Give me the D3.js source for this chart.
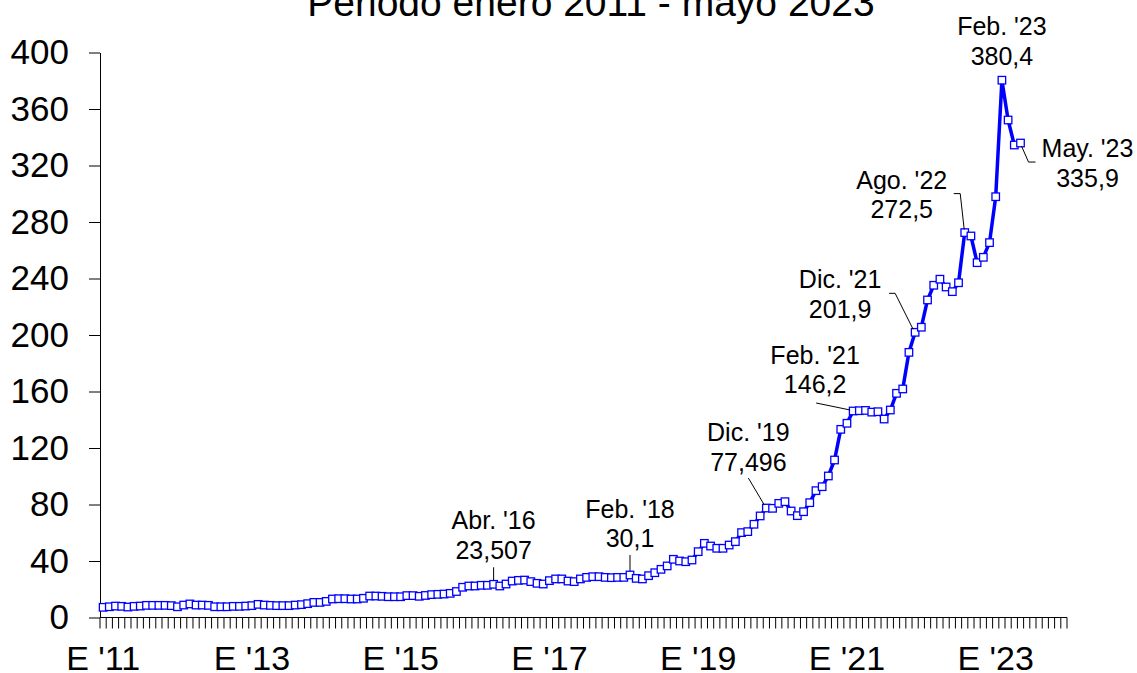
<!DOCTYPE html>
<html lang="es">
<head>
<meta charset="UTF-8">
<title>Periodo enero 2011 - mayo 2023</title>
<script src="https://cdn.jsdelivr.net/npm/d3@7"></script>
<style>
  body { margin: 0; background: #fff; }
  svg { display: block; font-family: "Liberation Sans", Arial, sans-serif; }
</style>
</head>
<body>
<svg class="root"></svg>
<script>
// ---- data ----
const title = "Periodo enero 2011 - mayo 2023";
const axisMonths = 156; // ene 2011 .. dic 2023 on the category axis

// monthly values, ene 2011 .. may 2023
const values = [
  7.2, 7.6, 8.1, 7.9, 7.4, 7.9, 8.1, 8.6, 8.6, 8.6, 8.6, 8.4,          // 2011
  7.6, 8.8, 9.6, 8.8, 8.8, 8.6, 7.6, 7.6, 7.6, 7.9, 7.9, 8.1,          // 2012
  8.4, 9.3, 8.8, 8.6, 8.4, 8.4, 8.4, 8.8, 9.1, 9.8, 10.7, 10.7,        // 2013
  11.4, 13.1, 13.3, 13.3, 13.1, 13.1, 13.6, 15.2, 15.2, 15.0, 14.7, 14.7, // 2014
  14.7, 15.5, 15.5, 15.0, 15.6, 16.2, 16.4, 16.6, 17.1, 18.4, 21.4, 22.3, // 2015
  22.3, 22.8, 22.8, 23.507, 22.3, 23.7, 25.8, 26.3, 26.5, 25.4, 24.2, 23.7, // 2016
  26.1, 27.3, 27.3, 25.8, 25.4, 27.3, 28.4, 28.9, 28.9, 28.4, 28.2, 28.4, // 2017
  28.4, 30.1, 27.7, 27.3, 29.6, 31.7, 34.1, 36.5, 41.2, 40.0, 39.5, 40.7, // 2018
  46.6, 52.5, 50.6, 49.0, 49.0, 51.3, 53.7, 60.1, 60.8, 66.0, 71.9, 77.496, // 2019
  77.3, 80.8, 82.0, 75.4, 72.1, 74.9, 81.3, 89.8, 92.6, 100.2, 111.5, 133.2, // 2020
  137.5, 146.2, 146.4, 146.6, 145.4, 145.7, 140.5, 146.9, 158.7, 161.8, 187.7, 201.9, // 2021
  205.5, 224.8, 235.2, 239.5, 234.0, 230.7, 237.0, 272.5, 270.1, 251.2, 255.0, 265.4, // 2022
  297.9, 380.4, 352.2, 334.5, 335.9                                     // 2023
];

const yTicks = [0, 40, 80, 120, 160, 200, 240, 280, 320, 360, 400];
const xTickMonths = [0, 24, 48, 72, 96, 120, 144];
const xTickLabels = ["E '11", "E '13", "E '15", "E '17", "E '19", "E '21", "E '23"];

const noteMonths = [63, 85, 107, 121, 131, 139, 145, 148];
const noteNames = ["Abr. '16", "Feb. '18", "Dic. '19", "Feb. '21", "Dic. '21", "Ago. '22", "Feb. '23", "May. '23"];
const noteValues = ["23,507", "30,1", "77,496", "146,2", "201,9", "272,5", "380,4", "335,9"];

// ---- layout ----
const width = 1137, height = 673;
const blue = "#0000ff";

// label offsets from the marker, and leader line points (relative)
const noteLayout = [
  {dx: 0,   dy: -55, leader: [[0, -17], [0, -4]]},
  {dx: 0,   dy: -57, leader: [[0, -20], [0, -4]]},
  {dx: -18, dy: -67, leader: [[-18, -30], [-2, -3]]},
  {dx: -38, dy: -47, leader: [[-37, -8], [-3, -1]]},
  {dx: -75, dy: -44, leader: [[-26, -39], [-20, -39], [-2, -3]]},
  {dx: -63, dy: -44, leader: [[-11, -39], [-4.5, -39], [-0.5, -3]]},
  {dx: 0,   dy: -45, leader: null},
  {dx: 67,  dy: 14,  leader: [[1, 3], [8, 19], [15, 19]]}
];

const svg = d3.select(".root")
  .attr("width", width)
  .attr("height", height);

const x = d3.scaleBand().domain(d3.range(axisMonths)).range([100, 1067]);
const y = d3.scaleLinear().domain([0, 400]).range([617.5, 52.5]);
const cx = i => x(i) + x.bandwidth() / 2;

// title
svg.append("text")
  .attr("x", 591)
  .attr("y", 16)
  .attr("text-anchor", "middle")
  .attr("font-size", 39)
  .text(title);

// y axis
svg.append("g")
  .attr("transform", "translate(100,0)")
  .call(d3.axisLeft(y).tickValues(yTicks).tickSize(11).tickSizeOuter(0).tickPadding(20))
  .call(g => g.attr("font-family", null).attr("font-size", 35))
  .call(g => g.selectAll("text").attr("fill", "#000"))
  .call(g => g.selectAll("line, path").attr("stroke", "#000"));

// x axis: baseline, a tick on every month boundary, label every 2 years
const xg = svg.append("g");
xg.selectAll(".mtick")
  .data(d3.range(axisMonths + 1))
  .join("line")
  .attr("class", "mtick")
  .attr("x1", i => i < axisMonths ? x(i) : x.range()[1])
  .attr("x2", i => i < axisMonths ? x(i) : x.range()[1])
  .attr("y1", y(0))
  .attr("y2", y(0) + 11)
  .attr("stroke", "#000");
xg.append("line")
  .attr("x1", x.range()[0])
  .attr("x2", x.range()[1])
  .attr("y1", y(0))
  .attr("y2", y(0))
  .attr("stroke", "#000");
xg.selectAll(".xlab")
  .data(xTickMonths)
  .join("text")
  .attr("class", "xlab")
  .attr("x", d => cx(d))
  .attr("y", 670)
  .attr("text-anchor", "middle")
  .attr("font-size", 34)
  .text((d, k) => xTickLabels[k]);

// series
const line = d3.line()
  .x((d, i) => cx(i))
  .y(d => y(d));

svg.append("path")
  .datum(values)
  .attr("fill", "none")
  .attr("stroke", blue)
  .attr("stroke-width", 3.5)
  .attr("stroke-linejoin", "round")
  .attr("d", line);

const sq = 7.5;
svg.append("g")
  .selectAll("rect")
  .data(values)
  .join("rect")
  .attr("x", (d, i) => cx(i) - sq / 2)
  .attr("y", d => y(d) - sq / 2)
  .attr("width", sq)
  .attr("height", sq)
  .attr("fill", "#fff")
  .attr("stroke", blue)
  .attr("stroke-width", 1.3);

// annotations
const notes = svg.append("g").attr("font-size", 25).attr("text-anchor", "middle");
noteMonths.forEach((m, k) => {
  const mx = cx(m), my = y(values[m]);
  const lay = noteLayout[k];
  if (lay.leader) {
    notes.append("path")
      .attr("fill", "none")
      .attr("stroke", "#000")
      .attr("stroke-width", 1)
      .attr("d", d3.line()(lay.leader.map(p => [mx + p[0], my + p[1]])));
  }
  notes.append("text")
    .attr("x", mx + lay.dx)
    .attr("y", my + lay.dy)
    .text(noteNames[k]);
  notes.append("text")
    .attr("x", mx + lay.dx)
    .attr("y", my + lay.dy + 29.5)
    .text(noteValues[k]);
});
</script>
</body>
</html>
